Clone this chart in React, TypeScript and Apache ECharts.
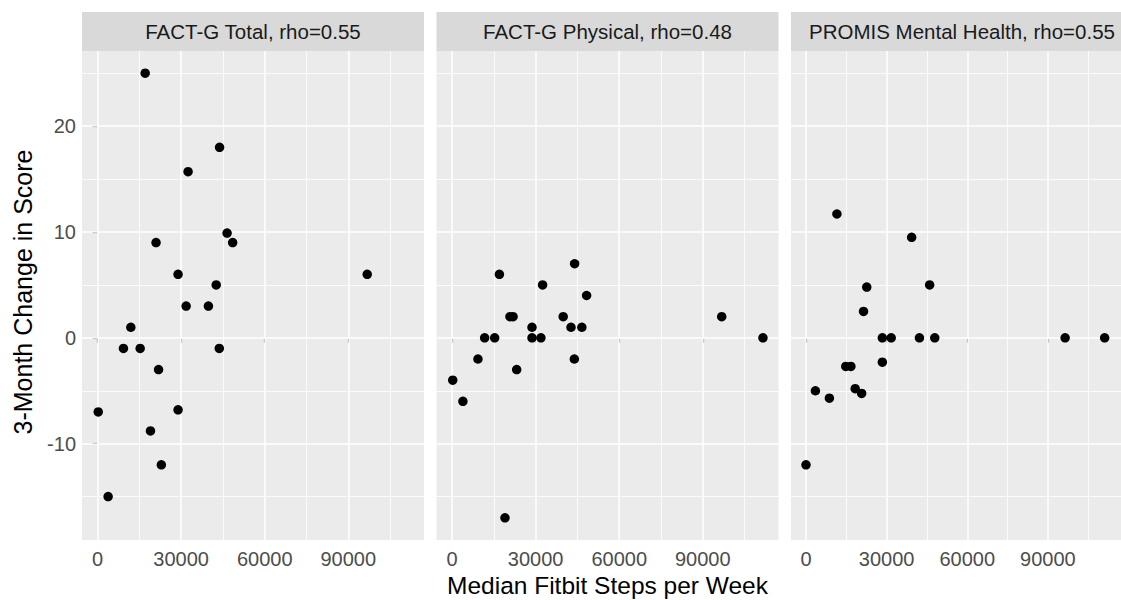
import React, { useEffect, useRef } from "react";
import * as echarts from "echarts";

const FONT = "'Liberation Sans', Arial, Helvetica, sans-serif";

const panelTitles = [
  "FACT-G Total, rho=0.55",
  "FACT-G Physical, rho=0.48",
  "PROMIS Mental Health, rho=0.55",
];

const xTicks = [0, 30000, 60000, 90000];
const xMinor = [15000, 45000, 75000, 105000];
const yTicks = [-10, 0, 10, 20];
const yMinor = [-15, -5, 5, 15, 25];
const xRange = [-5580, 117180];
const yRange = [-19.1, 27.1];

const p1X = [17100, 43800, 32500, 21000, 46500, 48500, 28900, 42600, 96800, 31800, 39800, 11950, 9300, 15300, 43700, 21900, 250, 28900, 19000, 22900, 3800];
const p1Y = [25, 18, 15.7, 9, 9.9, 9, 6, 5, 6, 3, 3, 1, -1, -1, -1, -3, -7, -6.8, -8.8, -12, -15];

const p2X = [250, 3900, 9300, 11700, 15300, 17000, 20800, 21900, 23200, 28700, 28700, 31900, 32500, 39900, 42700, 44000, 43900, 46600, 48300, 96800, 111600, 19000];
const p2Y = [-4, -6, -2, 0, 0, 6, 2, 2, -3, 1, 0, 0, 5, 2, 1, 7, -2, 1, 4, 2, 0, -17];

const p3X = [11500, 39300, 22600, 46000, 21400, 28400, 31700, 42200, 47900, 96400, 111100, 14800, 16700, 28400, 0, 3500, 8700, 18300, 20700];
const p3Y = [11.7, 9.5, 4.8, 5.0, 2.5, 0, 0, 0, 0, 0, 0, -2.7, -2.7, -2.3, -12, -5, -5.7, -4.8, -5.25];

const panelsX = [p1X, p2X, p3X];
const panelsY = [p1Y, p2Y, p3Y];

export default function App() {
  const ref = useRef<HTMLDivElement>(null);
  useEffect(() => {
    document.body.style.margin = "0";
    if (!ref.current) return;
    const chart = echarts.init(ref.current, null, { renderer: "svg" });
    const lefts = [82, 436.5, 791];
    const W = 342;
    const top = 51;
    const H = 489;

    const grids = lefts.map((l) => ({
      left: l,
      top,
      width: W,
      height: H,
      show: true,
      backgroundColor: "#ebebeb",
      borderWidth: 0,
      containLabel: false,
    }));

    const xAxes = lefts.map((_, i) => ({
      gridIndex: i,
      type: "value",
      min: xRange[0],
      max: xRange[1],
      axisLine: { show: false },
      axisTick: { show: true, customValues: xTicks, length: 5, lineStyle: { color: "#333333", width: 1.1 } },
      axisLabel: {
        show: true,
        customValues: xTicks,
        color: "#4d4d4d",
        fontSize: 20,
        fontFamily: FONT,
        margin: 9,
        formatter: (v: number) => String(v),
      },
      splitLine: { show: false },
    }));

    const yAxes = lefts.map((_, i) => ({
      gridIndex: i,
      type: "value",
      min: yRange[0],
      max: yRange[1],
      axisLine: { show: false },
      axisTick: { show: i === 0, customValues: yTicks, length: 5, lineStyle: { color: "#333333", width: 1.1 } },
      axisLabel: {
        show: i === 0,
        customValues: yTicks,
        color: "#4d4d4d",
        fontSize: 20,
        fontFamily: FONT,
        margin: 6,
        formatter: (v: number) => String(v),
      },
      splitLine: { show: false },
    }));

    const lineSeries = lefts.map((_, i) => ({
      type: "line",
      xAxisIndex: i,
      yAxisIndex: i,
      data: [],
      z: 1,
      silent: true,
      markLine: {
        silent: true,
        symbol: ["none", "none"],
        label: { show: false },
        animation: false,
        data: [
          ...xMinor.map((v) => ({ xAxis: v, lineStyle: { color: "#ffffff", width: 0.8, type: "solid" } })),
          ...yMinor.map((v) => ({ yAxis: v, lineStyle: { color: "#ffffff", width: 0.8, type: "solid" } })),
          ...xTicks.map((v) => ({ xAxis: v, lineStyle: { color: "#ffffff", width: 1.5, type: "solid" } })),
          ...yTicks.map((v) => ({ yAxis: v, lineStyle: { color: "#ffffff", width: 1.5, type: "solid" } })),
        ],
      },
    }));

    const scatterSeries = lefts.map((_, i) => ({
      type: "scatter",
      xAxisIndex: i,
      yAxisIndex: i,
      z: 5,
      symbol: "circle",
      symbolSize: 9.5,
      itemStyle: { color: "#000000", opacity: 1 },
      data: panelsX[i].map((x, j) => [x, panelsY[i][j]]),
    }));

    const graphics: any[] = [];
    lefts.forEach((l, i) => {
      graphics.push({
        type: "rect",
        shape: { x: l, y: 12, width: W, height: 39 },
        style: { fill: "#d9d9d9" },
        z: 0,
      });
      graphics.push({
        type: "text",
        x: l + W / 2,
        y: 31.5,
        style: {
          text: panelTitles[i],
          fill: "#1a1a1a",
          font: `20.5px ${FONT}`,
          align: "center",
          verticalAlign: "middle",
        },
        z: 1,
      });
    });
    graphics.push({
      type: "text",
      x: 607.5,
      y: 585,
      style: {
        text: "Median Fitbit Steps per Week",
        fill: "#000000",
        font: `24.5px ${FONT}`,
        align: "center",
        verticalAlign: "middle",
      },
    });
    graphics.push({
      type: "text",
      x: 23,
      y: 292,
      rotation: Math.PI / 2,
      style: {
        text: "3-Month Change in Score",
        fill: "#000000",
        font: `25px ${FONT}`,
        align: "center",
        verticalAlign: "middle",
      },
    });

    chart.setOption({
      animation: false,
      backgroundColor: "#ffffff",
      grid: grids,
      xAxis: xAxes,
      yAxis: yAxes,
      series: [...lineSeries, ...scatterSeries],
      graphic: graphics,
    });
    return () => chart.dispose();
  }, []);
  return <div ref={ref} style={{ width: 1121, height: 600 }} />;
}
